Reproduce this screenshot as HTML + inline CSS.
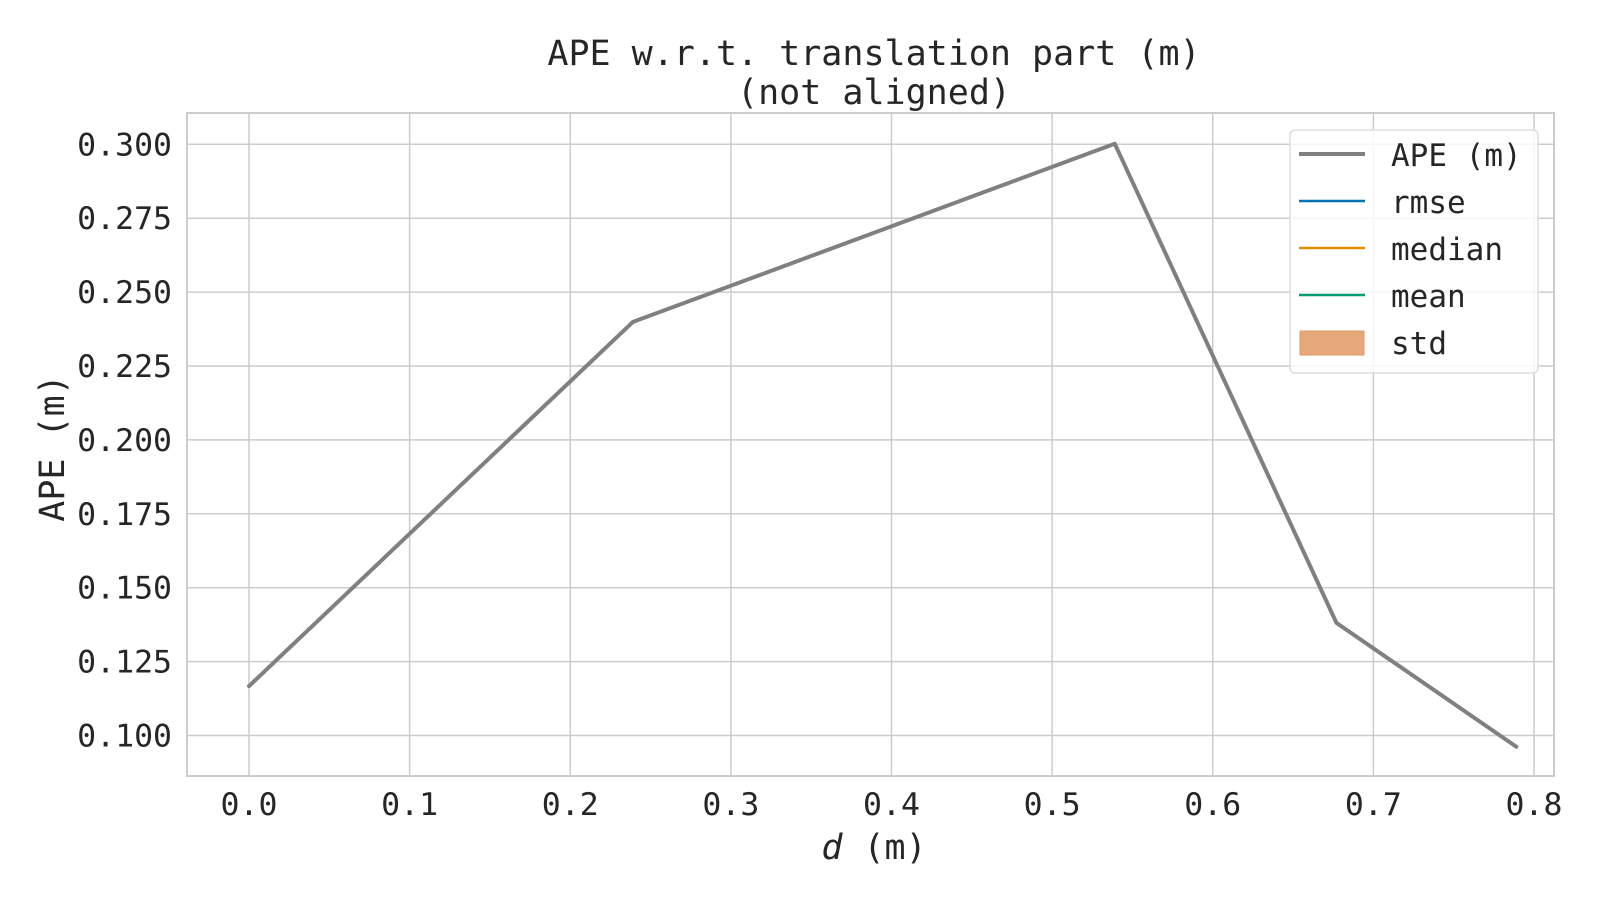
<!DOCTYPE html>
<html><head><meta charset="utf-8"><style>
body{margin:0;background:#fff}
svg text{font-family:"DejaVu Sans Mono","Liberation Mono",monospace;fill:#262626}
</style></head><body>
<svg width="1600" height="900" id="c">
<text x="874" y="65" font-size="35" text-anchor="middle">APE w.r.t. translation part (m)</text>
<text x="874" y="104" font-size="35" text-anchor="middle">(not aligned)</text>
<g id="grid"></g>
<rect x="187" y="113" width="1367" height="663" fill="none" stroke="#ccc" stroke-width="2"/>
<g id="marks"></g>
<text x="874" y="859" font-size="35" text-anchor="middle"><tspan font-style="italic">d</tspan> (m)</text>
<text transform="translate(64,448) rotate(-90)" font-size="35" text-anchor="middle">APE (m)</text>
<g>
<rect x="1290" y="130" width="248" height="243" rx="5" fill="#fff" fill-opacity="0.8" stroke="#ddd" stroke-width="1.5"/>
<line x1="1299" y1="154" x2="1365" y2="154" stroke="#808080" stroke-width="4"/>
<text x="1391" y="166" font-size="31">APE (m)</text>
<line x1="1299" y1="201" x2="1365" y2="201" stroke="#0173b2" stroke-width="2.5"/>
<text x="1391" y="213" font-size="31">rmse</text>
<line x1="1299" y1="248" x2="1365" y2="248" stroke="#de8f05" stroke-width="2.5"/>
<text x="1391" y="260" font-size="31">median</text>
<line x1="1299" y1="295" x2="1365" y2="295" stroke="#029e73" stroke-width="2.5"/>
<text x="1391" y="307" font-size="31">mean</text>
<rect x="1300" y="331" width="64" height="24" fill="#e6a87a" stroke="#e29a66"/>
<text x="1391" y="354" font-size="31">std</text>
</g>
</svg>
<script>
const xs=[0.0,0.239,0.539,0.677,0.789];
const ape=[0.1167,0.2399,0.3002,0.1381,0.0962];
const xTicks=[0,0.1,0.2,0.3,0.4,0.5,0.6,0.7,0.8];
const yTicks=[0.100,0.125,0.150,0.175,0.200,0.225,0.250,0.275,0.300];
const X=v=>249+v*1606.25;
const Y=v=>735.5-(v-0.1)*2956;
const NS='http://www.w3.org/2000/svg';
const grid=document.getElementById('grid'),marks=document.getElementById('marks');
function mk(tag,attrs,parent){const e=document.createElementNS(NS,tag);for(const k in attrs)e.setAttribute(k,attrs[k]);parent.appendChild(e);return e;}
xTicks.forEach(t=>{
 const l=mk('line',{x1:X(t),x2:X(t),y1:113,y2:776,stroke:'#ccc','stroke-width':1.5},grid);
 
 
 const tx=mk('text',{x:X(t),y:815,'font-size':31.5,'text-anchor':'middle'},grid);
 tx.textContent=t.toFixed(1);
 
 
});
yTicks.forEach(t=>{
 const l=mk('line',{x1:187,x2:1554,y1:Y(t),y2:Y(t),stroke:'#ccc','stroke-width':1.5},grid);
 
 
 const tx=mk('text',{x:172,y:Y(t)+11,'font-size':31.5,'text-anchor':'end'},grid);
 tx.textContent=t.toFixed(3);
 
 
});
const p=mk('polyline',{points:xs.map((x,i)=>X(x)+','+Y(ape[i])).join(' '),fill:'none',stroke:'#808080','stroke-width':4,'stroke-linejoin':'round','stroke-linecap':'round'},marks);


</script>
</body></html>
